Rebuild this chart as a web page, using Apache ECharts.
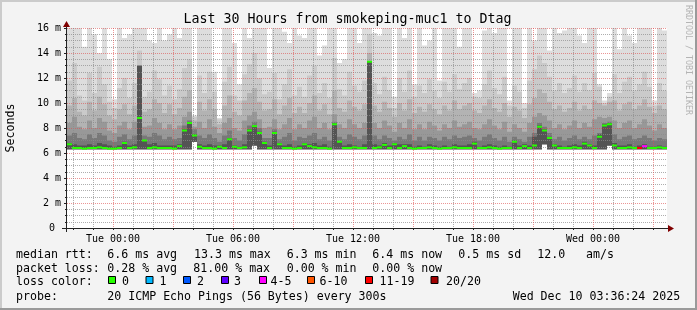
<!DOCTYPE html>
<html><head><meta charset="utf-8">
<script src="https://cdn.jsdelivr.net/npm/echarts@6/dist/echarts.min.js"></script>
<style>html,body{margin:0;padding:0;background:#f3f3f3}#c{width:697px;height:310px}</style>
</head><body><div id="c"></div>
<script>
// ---- time grid (hours relative to Tue 00:00) ----
const startHour = -2.3, endHour = 27.7, stepHours = 0.25;
const hourTicks = [-2,-1,0,1,2,3,4,5,6,7,8,9,10,11,12,13,14,15,16,17,18,19,20,21,22,23,24,25,26,27];
const labelHours = [0, 6, 12, 18, 24];

// ---- median rtt (ms) per 15 min column ----
const median = [
6.7,6.4,6.4,6.35,6.4,6.4,6.45,6.4,6.35,6.35,6.4,6.8,6.4,6.45,8.8,7.0,6.4,6.45,6.4,6.4,
6.4,6.35,6.55,7.8,8.4,7.4,6.5,6.4,6.4,6.35,6.5,6.4,7.1,6.5,6.4,6.45,7.8,8.15,7.6,6.8,
6.4,7.6,6.7,6.4,6.4,6.35,6.4,6.7,6.55,6.45,6.4,6.4,6.35,8.3,6.9,6.4,6.4,6.45,6.4,6.4,
13.3,6.4,6.45,6.65,6.4,6.7,6.4,6.55,6.4,6.35,6.4,6.4,6.45,6.4,6.35,6.4,6.4,6.45,6.4,6.4,
6.4,6.75,6.4,6.4,6.45,6.4,6.35,6.4,6.4,6.9,6.4,6.55,6.4,6.6,8.1,7.8,7.2,6.6,6.4,6.4,
6.4,6.45,6.4,6.75,6.6,6.4,7.3,8.2,8.3,6.6,6.4,6.4,6.45,6.4,6.4,6.55,6.4,6.4,6.45,6.4];
// ---- lost pings (of 20) per column ----
const lossCount = [
0,0,0,0,0,0,0,0,0,0,0,0,0,0,0,0,0,0,0,0,
0,0,0,0,0,0,0,0,0,0,0,0,0,0,0,0,0,0,0,0,
0,0,0,0,0,0,0,0,0,0,0,0,0,0,0,0,0,0,0,0,
0,0,0,0,0,0,0,0,0,0,0,0,0,0,0,0,0,0,0,0,
0,0,0,0,0,0,0,0,0,0,0,0,0,0,0,0,0,0,0,0,
0,0,0,0,0,0,0,0,0,0,0,0,0,0,12,4,0,0,0,0];
// ---- smoke: lowest ping (ms) ----
const smokeLow = [
6.3,6.3,6.3,6.3,6.3,6.3,6.3,6.3,6.3,6.3,6.3,6.3,6.3,6.3,6.3,6.3,6.3,6.3,6.3,6.3,
6.3,6.3,6.3,6.3,6.3,6.9,6.3,6.3,6.3,6.3,6.3,6.3,6.3,6.3,6.3,6.3,6.3,6.6,6.3,6.3,
6.3,6.3,6.3,6.3,6.3,6.3,6.3,6.3,6.3,6.3,6.3,6.3,6.3,6.3,6.3,6.3,6.3,6.3,6.3,6.3,
6.3,6.3,6.3,6.3,6.3,6.3,6.3,6.3,6.3,6.3,6.3,6.3,6.3,6.3,6.3,6.3,6.3,6.3,6.3,6.3,
6.3,6.3,6.3,6.3,6.3,6.3,6.3,6.3,6.3,6.3,6.3,6.3,6.3,6.3,6.3,6.7,6.3,6.3,6.3,6.3,
6.3,6.3,6.3,6.3,6.3,6.3,6.3,6.3,6.6,6.3,6.3,6.3,6.3,6.3,6.3,6.3,6.3,6.3,6.3,6.3];
// ---- smoke: highest ping (ms, >16 = off scale) ----
const smokeMax = [
17,17,17,14.5,17,15.5,14,17,13.5,10.3,17,15.2,15.5,17,17,17,15,14.8,17,15,
15.5,17,15.2,17,17,9.0,17,16.5,17,12.5,8.8,17,17,14.8,11.5,17,15.2,17,17,16,
12.8,17,17,15.7,14.8,17,15.4,15.2,17,17,13.8,14.6,17,17,13.2,13.5,17,17,14.8,17,
17,15.6,15.4,17,17,10.5,17,15.2,17,11.5,17,14.6,15,17,11.8,17,17,17,14.5,17,
17,10.8,11,15.8,17,15.6,17,17,10.2,17,17,10,17,15,17,17,14.2,17,15.6,15.8,
17,17,15.4,14.8,17,17,11.5,10.2,10.8,17,14.3,17,15.4,14.8,17,17,17,10.2,17,15.8];
// ---- smoke: 2nd highest ping band ----
const smokeHigh = [
11.8,13.2,10.6,10.2,12.4,10.8,12.9,11.5,10.1,9.6,11.2,12.0,10.4,11.6,14.2,10.5,10.9,12.6,11.9,10.6,
11.4,10.3,11.1,12.8,13.5,8.9,12.2,10.8,12.5,10.9,8.7,11.7,12.9,10.6,10.2,12.3,13.1,14.0,12.0,10.7,
10.9,12.4,10.3,11.5,12.7,10.6,11.3,10.5,12.2,13.0,10.8,11.6,10.4,13.6,11.1,10.6,12.5,11.4,10.9,11.8,
15.5,11.6,10.7,12.1,11.0,9.6,12.0,10.9,12.6,10.5,11.4,10.8,11.9,11.0,10.4,11.7,10.9,12.3,11.1,11.6,
12.0,10.5,10.4,11.5,12.6,11.2,10.7,12.1,9.8,11.4,10.9,9.6,11.8,12.7,13.8,13.2,12.1,11.0,11.6,10.8,
11.2,12.2,10.9,11.6,11.0,12.4,11.3,10.0,10.5,12.3,10.8,11.7,12.1,11.0,11.5,12.5,11.3,9.8,11.6,11.0];
// ---- smoke: upper ping band ----
const smokeUpper = [
9.8,10.4,9.3,9.0,10.1,9.4,10.5,9.9,9.0,8.7,9.5,9.9,9.1,9.8,11.0,9.3,9.5,10.3,10.0,9.2,
9.9,9.1,9.6,10.5,11.0,8.6,10.1,9.4,10.3,9.5,8.3,9.8,10.6,9.3,9.0,10.2,10.8,11.2,10.1,9.4,
9.5,10.3,9.1,9.8,10.4,9.2,9.7,9.2,10.0,10.6,9.4,9.9,9.1,11.0,9.6,9.3,10.2,9.7,9.4,9.9,
14.0,9.8,9.3,10.1,9.6,8.9,10.0,9.4,10.3,9.2,9.7,9.3,9.9,9.5,9.1,9.8,9.4,10.2,9.5,9.8,
10.0,9.4,9.2,9.8,10.3,9.6,9.3,10.0,8.9,9.7,9.4,8.8,9.9,10.4,11.1,10.8,10.1,9.5,9.8,9.3,
9.6,10.1,9.4,9.8,9.5,10.2,10.0,9.8,10.1,10.2,9.4,9.9,10.1,9.5,9.8,10.3,9.7,9.2,9.8,9.5];
// ---- smoke: middle ping band ----
const smokeMid = [
8.4,8.9,8.1,7.9,8.6,8.0,8.8,8.5,7.8,7.6,8.2,8.5,7.9,8.5,9.8,8.1,8.2,8.8,8.4,7.9,
8.3,7.9,8.2,8.9,9.3,8.1,8.5,8.0,8.7,8.1,7.6,8.4,8.8,8.0,7.8,8.6,9.0,9.3,8.7,8.0,
8.1,8.7,7.9,8.3,8.8,7.9,8.3,8.0,8.6,8.9,8.0,8.4,7.9,9.1,8.3,8.0,8.7,8.3,8.0,8.4,
13.2,8.4,8.0,8.6,8.2,7.7,8.4,8.0,8.7,7.9,8.3,7.9,8.5,8.2,7.8,8.3,8.0,8.6,8.1,8.3,
8.5,8.0,7.9,8.3,8.7,8.2,7.9,8.5,7.7,8.3,8.0,7.7,8.4,8.9,9.2,9.0,8.6,8.0,8.3,7.9,
8.2,8.6,8.0,8.4,8.1,8.7,8.9,8.8,8.9,8.6,8.0,8.4,8.6,8.0,8.3,8.7,8.2,7.8,8.3,8.0];
// ---- smoke: inner ping band ----
const smokeInner = [
7.4,7.6,7.2,7.1,7.5,7.2,7.6,7.4,7.0,6.9,7.3,7.5,7.1,7.4,9.4,7.4,7.3,7.6,7.4,7.1,
7.3,7.1,7.2,8.2,8.6,7.9,7.4,7.2,7.5,7.2,6.9,7.4,7.8,7.2,7.0,7.5,8.2,8.5,8.0,7.2,
7.2,7.9,7.1,7.3,7.6,7.0,7.3,7.2,7.4,7.6,7.1,7.3,7.0,8.5,7.3,7.1,7.5,7.3,7.1,7.4,
13.3,7.4,7.1,7.4,7.2,7.0,7.3,7.1,7.5,7.0,7.3,7.0,7.3,7.2,7.0,7.3,7.1,7.4,7.2,7.3,
7.4,7.2,7.0,7.3,7.5,7.2,7.0,7.3,6.9,7.3,7.1,6.9,7.3,7.6,8.4,8.1,7.6,7.1,7.3,7.0,
7.2,7.4,7.1,7.3,7.1,7.4,7.6,8.4,8.5,7.5,7.1,7.3,7.4,7.1,7.2,7.4,7.2,7.0,7.2,7.1];
// ---- smoke: core ping band ----
const smokeCore = [
6.8,6.7,6.6,6.6,6.7,6.6,6.8,6.7,6.6,6.5,6.6,6.9,6.6,6.7,13.0,7.0,6.7,6.8,6.6,6.6,
6.6,6.6,6.7,7.9,8.4,7.5,6.7,6.6,6.7,6.6,6.6,6.7,7.2,6.6,6.5,6.7,7.9,8.2,7.7,6.9,
6.6,7.7,6.8,6.6,6.7,6.5,6.6,6.8,6.7,6.8,6.6,6.7,6.5,8.4,6.9,6.6,6.7,6.6,6.5,6.7,
13.3,6.7,6.6,6.8,6.6,6.8,6.7,6.7,6.7,6.5,6.6,6.5,6.7,6.6,6.5,6.6,6.5,6.7,6.6,6.6,
6.7,6.9,6.5,6.6,6.7,6.6,6.5,6.6,6.5,7.0,6.6,6.7,6.6,7.3,8.2,7.9,7.3,6.7,6.6,6.5,
6.6,6.7,6.6,6.9,6.7,6.6,7.5,8.3,8.4,6.8,6.6,6.6,6.7,6.5,6.6,6.7,6.5,6.5,6.6,6.5];

// ---- legend ----
const lossLabels = ['0','1','2','3','4-5','6-10','11-19','20/20'];
const lossColors = ['#26ff00','#00b8ff','#0059ff','#5e00ff','#ff00ff','#ff5500','#ff0000','#a10000'];
const titleText = 'Last 30 Hours from smokeping-muc1 to Dtag';
const rttStats = ['6.6 ms avg','13.3 ms max','6.3 ms min','6.4 ms now','0.5 ms sd','12.0','am/s'];
const lossStats = ['0.28 % avg','81.00 % max','0.00 % min','0.00 % now'];
const probeText = '20 ICMP Echo Pings (56 Bytes) every 300s';
const stampText = 'Wed Dec 10 03:36:24 2025';

// ---- style / layout ----
const MONO = "'DejaVu Sans Mono', monospace";
const GRID = 'rgba(140,140,140,0.7)';
const MGRID = 'rgba(222,79,79,0.6)';
const bands = [smokeMax, smokeHigh, smokeUpper, smokeMid, smokeInner, smokeCore];
const bandColors = ['#dddddd','#cacaca','#b3b3b3','#989898','#787878','#545454'];

function lossIndex(n){ if(n<=3) return n; if(n<=5) return 4; if(n<=10) return 5; if(n<=19) return 6; return 7; }
function colStart(i){ return startHour + i*stepHours; }

const series = bands.map((arr, b) => ({
  type:'custom', z: 1, silent:true, clip:true,
  encode:{x:[0,1], y:[2,3]},
  data: arr.map((v,i)=>[colStart(i), colStart(i)+stepHours, smokeLow[i], v]),
  renderItem: function(params, api){
    const x0=api.value(0), x1=api.value(1), lo=api.value(2), hi=Math.min(api.value(3),16.2);
    if(!(hi>lo)) return null;
    const a=api.coord([x0,hi]), c=api.coord([x1,lo]);
    return {type:'rect', shape:{x:a[0], y:a[1], width:c[0]-a[0], height:c[1]-a[1]}, style:{fill:bandColors[b]}};
  }
}));
series.push({
  type:'custom', z: 10, silent:true, clip:true,
  encode:{x:[0,1], y:2},
  data: median.map((v,i)=>[colStart(i), colStart(i)+stepHours, v, lossCount[i]]),
  renderItem: function(params, api){
    const x0=api.value(0), x1=api.value(1), m=api.value(2);
    const a=api.coord([x0,m]), c=api.coord([x1,m]);
    return {type:'rect', shape:{x:a[0], y:a[1]-1, width:c[0]-a[0], height:2}, style:{fill:lossColors[lossIndex(api.value(3))]}};
  }
});

// text helper: y is the text baseline
function txt(x,base,s,size,opt){
  size = size || 11.6;
  return {type:'text', x:x, y:base-0.3*size, silent:true, z:100,
    style:Object.assign({text:s, fill:'#000', font:size+'px '+MONO, align:'left', verticalAlign:'middle'}, opt||{})};
}
const g = [];
// border shading
g.push({type:'rect', shape:{x:0,y:0,width:697,height:2}, style:{fill:'#cbcbcb'}, silent:true});
g.push({type:'rect', shape:{x:0,y:0,width:2,height:310}, style:{fill:'#cbcbcb'}, silent:true});
g.push({type:'rect', shape:{x:0,y:308,width:697,height:2}, style:{fill:'#9a9a9a'}, silent:true});
g.push({type:'rect', shape:{x:695,y:0,width:2,height:310}, style:{fill:'#9a9a9a'}, silent:true});
// axes lines + arrows
g.push({type:'line', shape:{x1:62,y1:228.5,x2:670,y2:228.5}, style:{stroke:'#222',lineWidth:1}, z:50, silent:true});
g.push({type:'line', shape:{x1:66.5,y1:232,x2:66.5,y2:24}, style:{stroke:'#222',lineWidth:1}, z:50, silent:true});
g.push({type:'polygon', shape:{points:[[668,225],[674,228.5],[668,232]]}, style:{fill:'#800000'}, z:51, silent:true});
g.push({type:'polygon', shape:{points:[[63,27],[66.5,21],[70,27]]}, style:{fill:'#800000'}, z:51, silent:true});
// title, y name, watermark
g.push(txt(347.5,24,titleText,13.3,{align:'center'}));
g.push({type:'text', x:11, y:128, rotation:Math.PI/2, silent:true, z:100, style:{text:'Seconds', font:'11.6px '+MONO, fill:'#000', align:'center', verticalAlign:'middle'}});
g.push({type:'text', x:688, y:5, rotation:-Math.PI/2, silent:true, z:100, style:{text:'RRDTOOL / TOBI OETIKER', font:'8.3px '+MONO, fill:'#b4b4b4', align:'left', verticalAlign:'middle'}});
// legend rows
const row1 = [107.3,194,286.7,372.3,458.3,537.3,586];
g.push(txt(16,258.5,'median rtt:'));
rttStats.forEach((s,i)=>g.push(txt(row1[i],258.5,s)));
const row2 = [107.3,193.3,286.7,372.3];
g.push(txt(16,272,'packet loss:'));
lossStats.forEach((s,i)=>g.push(txt(row2[i],272,s)));
g.push(txt(16,285.5,'loss color:'));
const boxX = [108.5,146,183.5,221.5,259.5,307.5,365.5,431];
const labX = [122,159.5,197,234,270.5,319.5,379.5,446];
lossLabels.forEach((s,i)=>{
  g.push({type:'rect', shape:{x:boxX[i], y:276.5, width:7, height:7}, style:{fill:lossColors[i], stroke:'#000', lineWidth:1}, z:100, silent:true});
  g.push(txt(labX[i],285.5,s));
});
g.push(txt(16,300,'probe:'));
g.push(txt(107.3,300,probeText));
g.push(txt(512.7,300,stampText));

const chart = echarts.init(document.getElementById('c'), null, {renderer:'canvas'});
chart.setOption({
  backgroundColor:'#f3f3f3',
  animation:false,
  grid:{left:67, top:28, width:600, height:200, backgroundColor:'#ffffff', show:true, borderWidth:0},
  xAxis:{
    type:'value', min:startHour, max:endHour, z:5,
    axisLine:{show:false, onZero:false},
    axisTick:{show:true, customValues:hourTicks, length:2, lineStyle:{color:'#222'}},
    axisLabel:{customValues:labelHours, margin:6, color:'#000', fontFamily:MONO, fontSize:10,
      formatter:function(v){ const h=((v%24)+24)%24; return (v<24?'Tue ':'Wed ')+(h<10?'0':'')+h+':00'; }},
    splitLine:{show:true, lineStyle:{color:[GRID,GRID,MGRID], type:[1,1], width:1}}
  },
  yAxis:{
    type:'value', min:0, max:16, interval:2, z:5,
    axisLine:{show:false, onZero:false},
    axisTick:{show:true, length:3, lineStyle:{color:'#222'}},
    minorTick:{show:true, splitNumber:4, length:2, lineStyle:{color:'#222'}},
    axisLabel:{margin:6, color:'#000', fontFamily:MONO, fontSize:10, formatter:function(v){ return v===0?'0 ':v+' m'; }},
    splitLine:{show:true, lineStyle:{color:MGRID, type:[1,1], width:1}},
    minorSplitLine:{show:true, lineStyle:{color:GRID, type:[1,1], width:1}}
  },
  graphic: g,
  series: series
});
</script></body></html>
